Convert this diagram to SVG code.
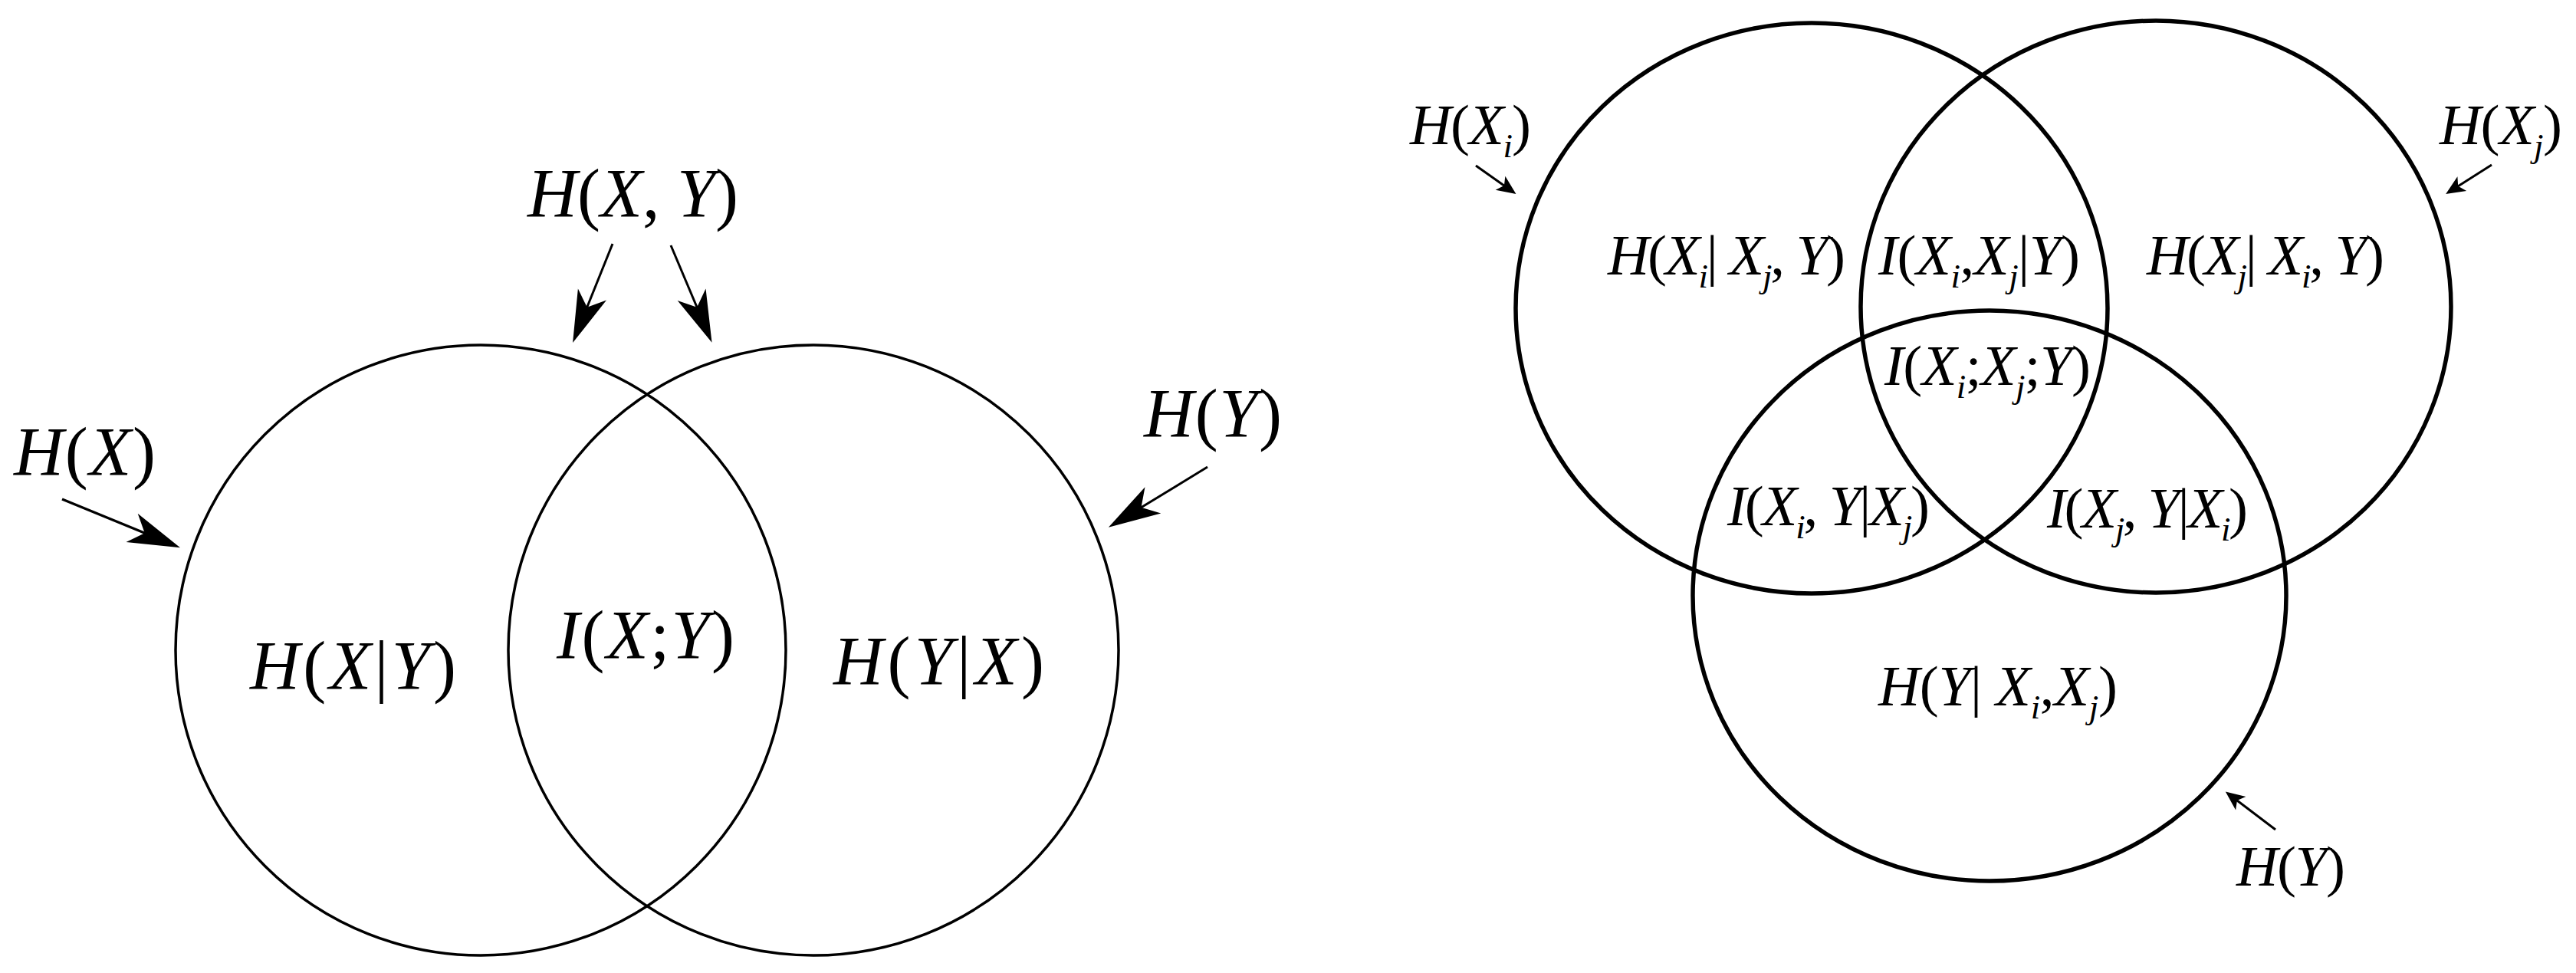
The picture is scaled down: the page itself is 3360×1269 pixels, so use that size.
<svg xmlns="http://www.w3.org/2000/svg" width="3360" height="1269" viewBox="0 0 3360 1269">
<defs>
<style>
.bg{fill:#fff}
.c1{fill:none;stroke:#000;stroke-width:3.5}
.c2{fill:none;stroke:#000;stroke-width:5.5}
.a1{fill:none;stroke:#000;stroke-width:3.5}
.a2{fill:none;stroke:#000;stroke-width:3}
.l{font-family:"Liberation Serif","Times New Roman",serif;font-size:90px;fill:#000}
.r{font-family:"Liberation Serif","Times New Roman",serif;font-size:75px;fill:#000}
.i{font-style:italic}
.s{font-style:italic;font-size:45px}
</style>
<marker id="big" markerUnits="userSpaceOnUse" markerWidth="80" markerHeight="50" viewBox="-70 -25 80 50" refX="-40" refY="0" orient="auto" overflow="visible">
<path d="M0,0 L-68,-20 L-50,0 L-68,20 Z" fill="#000"/>
</marker>
<marker id="small" markerUnits="userSpaceOnUse" markerWidth="30" markerHeight="30" viewBox="-27 -15 30 30" refX="-14" refY="0" orient="auto" overflow="visible">
<path d="M0,0 L-25,-11 L-19,0 L-25,11 Z" fill="#000"/>
</marker>
</defs>
<rect class="bg" x="0" y="0" width="3360" height="1269"/>

<!-- Left diagram -->
<g id="node-HX"><circle class="c1" cx="627" cy="848" r="398"/></g>
<g id="node-HY"><circle class="c1" cx="1061" cy="848" r="398"/></g>

<g id="label-HX"><text class="l" x="18" y="620" textLength="185"><tspan class="i">H</tspan>(<tspan class="i">X</tspan>)</text></g>
<g id="label-HXY"><text class="l" x="688" y="283" textLength="275"><tspan class="i">H</tspan>(<tspan class="i">X</tspan>, <tspan class="i">Y</tspan>)</text></g>
<g id="label-HY"><text class="l" x="1492" y="570" textLength="180"><tspan class="i">H</tspan>(<tspan class="i">Y</tspan>)</text></g>
<g id="label-HXgY"><text class="l" x="326" y="899" textLength="269"><tspan class="i">H</tspan>(<tspan class="i">X</tspan>|<tspan class="i">Y</tspan>)</text></g>
<g id="label-IXY"><text class="l" x="726" y="859" textLength="232"><tspan class="i">I</tspan>(<tspan class="i">X</tspan>;<tspan class="i">Y</tspan>)</text></g>
<g id="label-HYgX"><text class="l" x="1087" y="893" textLength="275"><tspan class="i">H</tspan>(<tspan class="i">Y</tspan>|<tspan class="i">X</tspan>)</text></g>

<!-- Right diagram -->
<g id="node-HXi"><ellipse class="c2" cx="2363" cy="402" rx="386" ry="372"/></g>
<g id="node-HXj"><ellipse class="c2" cx="2812" cy="400" rx="385" ry="373"/></g>
<g id="node-HYr"><ellipse class="c2" cx="2595" cy="777" rx="387" ry="372"/></g>

<g id="label-HXi"><text class="r" x="1839" y="188" textLength="158"><tspan class="i">H</tspan>(<tspan class="i">X</tspan><tspan class="s" dy="17">i</tspan><tspan dy="-17">)</tspan></text></g>
<g id="label-HXj"><text class="r" x="3182" y="188" textLength="160"><tspan class="i">H</tspan>(<tspan class="i">X</tspan><tspan class="s" dy="17">j</tspan><tspan dy="-17">)</tspan></text></g>
<g id="label-HYr"><text class="r" x="2917" y="1155" textLength="142"><tspan class="i">H</tspan>(<tspan class="i">Y</tspan>)</text></g>

<g id="label-HXi-given"><text class="r" x="2097" y="358" textLength="310"><tspan class="i">H</tspan>(<tspan class="i">X</tspan><tspan class="s" dy="17">i</tspan><tspan dy="-17">| </tspan><tspan class="i">X</tspan><tspan class="s" dy="17">j</tspan><tspan dy="-17">, </tspan><tspan class="i">Y</tspan>)</text></g>
<g id="label-IXiXj-given"><text class="r" x="2450" y="358" textLength="263"><tspan class="i">I</tspan>(<tspan class="i">X</tspan><tspan class="s" dy="17">i</tspan><tspan dy="-17">,</tspan><tspan class="i">X</tspan><tspan class="s" dy="17">j</tspan><tspan dy="-17">|</tspan><tspan class="i">Y</tspan>)</text></g>
<g id="label-HXj-given"><text class="r" x="2800" y="358" textLength="310"><tspan class="i">H</tspan>(<tspan class="i">X</tspan><tspan class="s" dy="17">j</tspan><tspan dy="-17">| </tspan><tspan class="i">X</tspan><tspan class="s" dy="17">i</tspan><tspan dy="-17">, </tspan><tspan class="i">Y</tspan>)</text></g>
<g id="label-IXiXjY"><text class="r" x="2458" y="502" textLength="269"><tspan class="i">I</tspan>(<tspan class="i">X</tspan><tspan class="s" dy="17">i</tspan><tspan dy="-17">;</tspan><tspan class="i">X</tspan><tspan class="s" dy="17">j</tspan><tspan dy="-17">;</tspan><tspan class="i">Y</tspan>)</text></g>
<g id="label-IXiY-given"><text class="r" x="2253" y="685" textLength="264"><tspan class="i">I</tspan>(<tspan class="i">X</tspan><tspan class="s" dy="17">i</tspan><tspan dy="-17">, </tspan><tspan class="i">Y</tspan>|<tspan class="i">X</tspan><tspan class="s" dy="17">j</tspan><tspan dy="-17">)</tspan></text></g>
<g id="label-IXjY-given"><text class="r" x="2670" y="688" textLength="262"><tspan class="i">I</tspan>(<tspan class="i">X</tspan><tspan class="s" dy="17">j</tspan><tspan dy="-17">, </tspan><tspan class="i">Y</tspan>|<tspan class="i">X</tspan><tspan class="s" dy="17">i</tspan><tspan dy="-17">)</tspan></text></g>
<g id="label-HY-given"><text class="r" x="2450" y="920" textLength="312"><tspan class="i">H</tspan>(<tspan class="i">Y</tspan>| <tspan class="i">X</tspan><tspan class="s" dy="17">i</tspan><tspan dy="-17">,</tspan><tspan class="i">X</tspan><tspan class="s" dy="17">j</tspan><tspan dy="-17">)</tspan></text></g>

<g id="connectors">
<line class="a1" x1="81" y1="651" x2="198" y2="699" marker-end="url(#big)"/>
<line class="a2" x1="799" y1="318" x2="762" y2="410" marker-end="url(#big)"/>
<line class="a2" x1="875" y1="320" x2="913" y2="410" marker-end="url(#big)"/>
<line class="a2" x1="1575" y1="609" x2="1480" y2="667" marker-end="url(#big)"/>
<line class="a2" x1="1925" y1="216" x2="1966" y2="245" marker-end="url(#small)"/>
<line class="a2" x1="3250" y1="215" x2="3202" y2="245.5" marker-end="url(#small)"/>
<line class="a2" x1="2968" y1="1082" x2="2914" y2="1041" marker-end="url(#small)"/>
</g>
</svg>
